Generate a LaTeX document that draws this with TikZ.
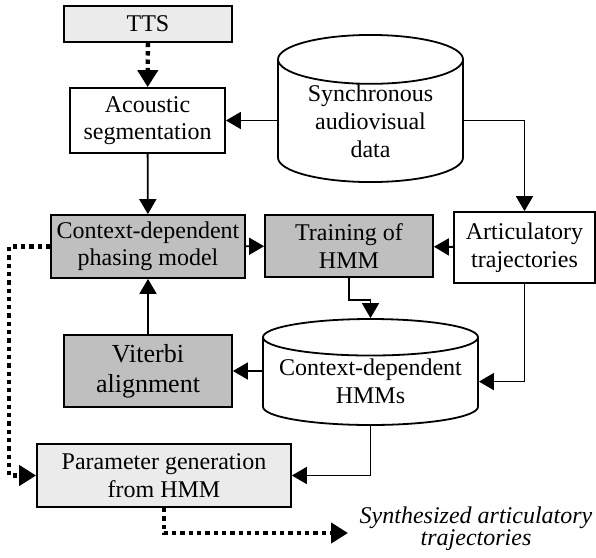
\documentclass[tikz,border=0pt]{standalone}
\usepackage{fontspec}
\setmainfont{Liberation Serif}
\usetikzlibrary{arrows.meta}
\usetikzlibrary{shapes.geometric}
\tikzset{box/.style={rectangle, draw, line width=1.8pt, align=center, inner sep=0pt,
      font=\fontsize{24}{27.5}\selectfont}}
\tikzset{lightbox/.style={box, fill=black!8}}
\tikzset{darkbox/.style={box, fill=black!25}}
\tikzset{store/.style={cylinder, shape border rotate=90, draw, fill=white, line width=1.8pt,
      align=center, inner sep=0pt, anchor=shape center, font=\fontsize{24}{28}\selectfont}}
\tikzset{flow/.style={line width=1.8pt, -{Triangle[length=15pt,width=17pt]}}}
\tikzset{dotflow/.style={line width=4.3pt, dash pattern=on 4.3pt off 4pt,
      -{Triangle[length=17pt,width=20pt]}}}

\begin{document}
\begin{tikzpicture}[x=1pt,y=-1pt]
		\useasboundingbox (0,0) rectangle (596,557);
		\node[lightbox, minimum width=168pt, minimum height=36pt] (tts) at (148,24) {TTS};
		\node[box, minimum width=155pt, minimum height=65pt] (acoustic) at (147.5,120.5) {Acoustic\\segmentation};
		\node[store, minimum width=185pt, minimum height=147pt, aspect=0.39] (sync) at (370.5,108.5) {Synchronous\\audiovisual\\data};
		\node[darkbox, minimum width=194pt, minimum height=63pt] (phasing) at (148,246.5) {Context-dependent\\phasing model};
		\node[darkbox, minimum width=168pt, minimum height=62pt] (training) at (349,246) {Training of\\HMM};
		\node[box, minimum width=141pt, minimum height=71pt] (articul) at (524.5,247.5) {Articulatory\\trajectories};
		\node[store, minimum width=215pt, minimum height=106pt, aspect=0.2] (hmms) at (370.5,372) {Context-dependent\\HMMs};
		\node[darkbox, minimum width=168pt, minimum height=72pt, font=\fontsize{26}{30}\selectfont] (viterbi) at (148,371) {Viterbi\\alignment};
		\node[lightbox, minimum width=254pt, minimum height=63pt] (param) at (164,475.5) {Parameter generation\\from HMM};
		\node[align=center, inner sep=0pt, font=\fontsize{24}{22}\selectfont\itshape] (synth) at (476,529) {Synthesized articulatory\\trajectories};
		\coordinate (synthend) at (348,533);
		\draw[dotflow] (tts) -- (acoustic);
		\draw[flow] (acoustic.east -| sync.west) -- (acoustic.east);
		\draw[flow] (acoustic.east -| sync.east) -| (articul.north);
		\draw[flow] (acoustic) -- (phasing);
		\draw[flow] (phasing) -- (training);
		\draw[flow] (articul) -- (training);
		\draw[flow] (training.south) -- ++(0,22) -| (hmms.north);
		\draw[flow] (articul.south) |- (hmms.east);
		\draw[flow] (viterbi.east -| hmms.west) -- (viterbi.east);
		\draw[flow] (viterbi) -- (phasing);
		\draw[flow] (hmms.south) |- (param.east);
		\draw[dotflow] (phasing.west) -- ++(-41,0) |- (param.west);
		\draw[dotflow] (param.south) |- (synthend);
\end{tikzpicture}
\end{document}
